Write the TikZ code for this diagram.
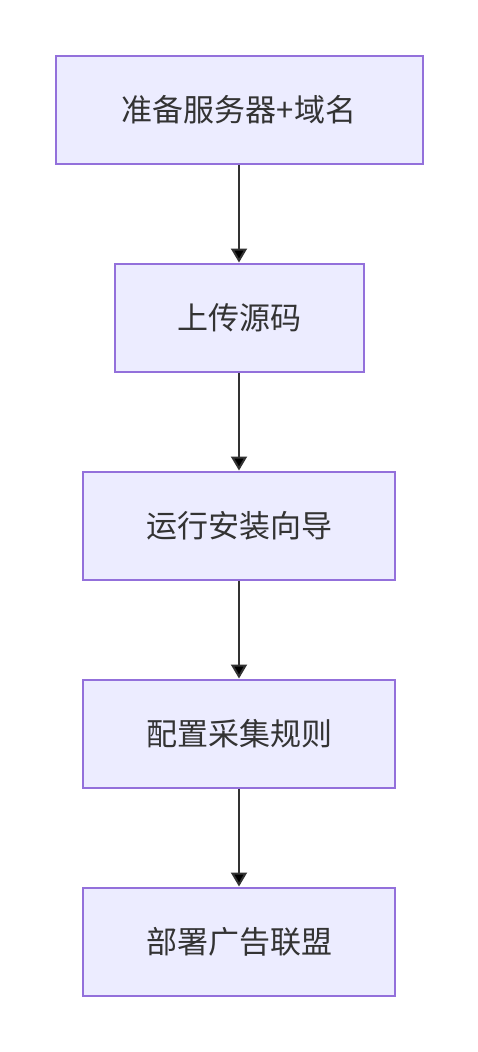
\documentclass[tikz,border=0pt]{standalone}
\usepackage{fontspec}
\setmainfont{Noto Sans CJK SC}
\usetikzlibrary{arrows.meta}
\definecolor{boxfill}{HTML}{ECECFF}
\definecolor{boxline}{HTML}{9370DB}
\definecolor{ink}{HTML}{333333}
\begin{document}
\begin{tikzpicture}[x=1pt, y=-1pt, >={Triangle[length=14pt, width=16pt]},
    stepbox/.style={draw=boxline, fill=boxfill, line width=2pt, text=ink,
        minimum height=108pt, inner sep=0pt, font=\fontsize{31}{36}\selectfont}]
            \useasboundingbox (0, 0) rectangle (477, 1052);
            \node[stepbox, minimum width=367pt] (s0) at (239, 109.5) {准备服务器+域名};
            \node[stepbox, minimum width=249pt] (s1) at (239, 317.5) {上传源码};
            \node[stepbox, minimum width=312pt] (s2) at (239, 525.5) {运行安装向导};
            \node[stepbox, minimum width=312pt] (s3) at (239, 733.5) {配置采集规则};
            \node[stepbox, minimum width=312pt] (s4) at (239, 941.5) {部署广告联盟};
            \path[->, draw=ink, line width=2pt]
                (s0) edge (s1)
                (s1) edge (s2)
                (s2) edge (s3)
                (s3) edge (s4)
            ;
        \end{tikzpicture}
\end{document}
